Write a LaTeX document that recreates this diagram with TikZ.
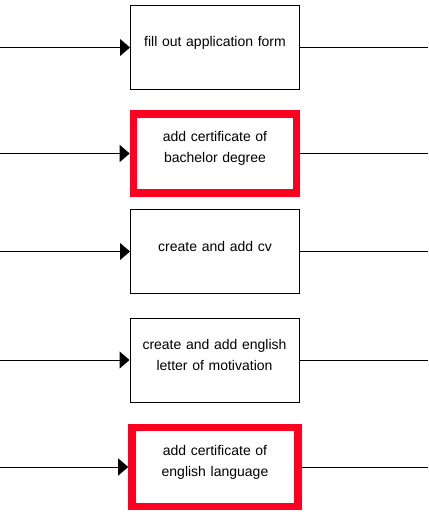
\documentclass[tikz,border=0pt]{standalone}
\usepackage{fontspec}
\setmainfont{Liberation Sans}
\usetikzlibrary{arrows.meta,positioning}
\definecolor{markred}{RGB}{255,0,33}
\tikzset{
    task/.style={
           rectangle,
           draw=black, line width=1pt,
           minimum width=169pt,
           minimum height=84pt,
           },
    task2/.style={
           rectangle,
           draw=markred, line width=7.6pt,
           minimum width=163pt,
           minimum height=79pt,
           },
    tasktext/.style={
           text width=150pt,
           align=center,
           inner sep=0pt,
           font=\fontsize{14}{21}\selectfont,
           },
}

\begin{document}
\begin{tikzpicture}
[
x=1pt,y=-1pt,
->,>={Triangle[length=10pt,width=17pt]},
line width=1pt
]
 \useasboundingbox (0,0) rectangle (428,518);

 % ends of the flow lines
 \coordinate (LEFT) at (0,0);
 \coordinate (RIGHT) at (428,0);

 % FORM
 \node[task] (FORM) at (215,47.5) {};
 \node[tasktext] (FORMTXT) at ([yshift=5pt]FORM.center)
 {%
fill out application form
 };

 % BACHELOR (marked)
 \node[task2,
 below of=FORM,
 node distance=106pt] (BACHELOR) {};
 \node[tasktext] (BACHELORTXT) at ([yshift=5pt]BACHELOR.center)
 {%
add certificate of\\ bachelor degree
 };

 % CV
 \node[task,
 below of=BACHELOR,
 node distance=98pt] (CV) {};
 \node[tasktext] (CVTXT) at ([yshift=5pt]CV.center)
 {%
create and add cv
 };

 % LETTER
 \node[task,
 below of=CV,
 node distance=108.5pt,
 xshift=-0.5pt] (LETTER) {};
 \node[tasktext] (LETTERTXT) at ([yshift=5pt]LETTER.center)
 {%
create and add english\\ letter of motivation
 };

 % ENGLISH (marked)
 \node[task2,
 below of=LETTER,
 node distance=107pt,
 xshift=0.5pt,
 minimum width=166pt] (ENGLISH) {};
 \node[tasktext] (ENGLISHTXT) at ([yshift=5pt]ENGLISH.center)
 {%
add certificate of\\ english language
 };

 \coordinate (IN1) at (FORM -| LEFT);
 \coordinate (OUT1) at (FORM -| RIGHT);
 \coordinate (IN2) at (BACHELOR -| LEFT);
 \coordinate (OUT2) at (BACHELOR -| RIGHT);
 \coordinate (IN3) at (CV -| LEFT);
 \coordinate (OUT3) at (CV -| RIGHT);
 \coordinate (IN4) at (LETTER -| LEFT);
 \coordinate (OUT4) at (LETTER -| RIGHT);
 \coordinate (IN5) at (ENGLISH -| LEFT);
 \coordinate (OUT5) at (ENGLISH -| RIGHT);

 % draw the flow lines in and out of every box
 \path
  (IN1) edge (FORM)
  (FORM) edge[-] (OUT1)
  (IN2) edge (BACHELOR)
  (BACHELOR) edge[-] (OUT2)
  (IN3) edge (CV)
  (CV) edge[-] (OUT3)
  (IN4) edge (LETTER)
  (LETTER) edge[-] (OUT4)
  (IN5) edge (ENGLISH)
  (ENGLISH) edge[-] (OUT5)
 ;

\end{tikzpicture}
\end{document}
